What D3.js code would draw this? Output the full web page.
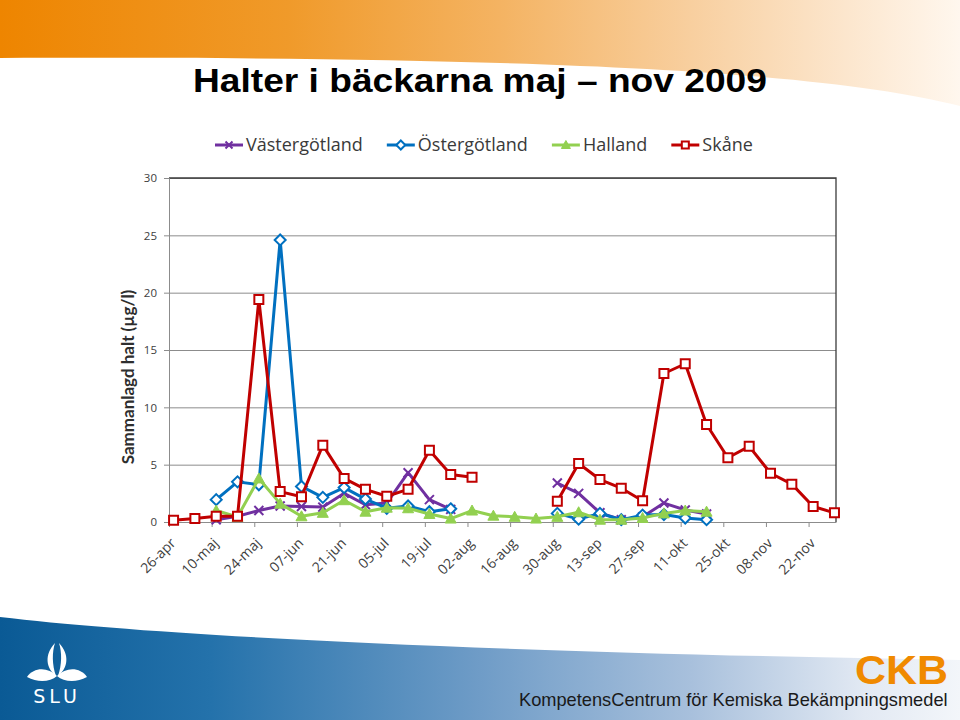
<!DOCTYPE html>
<html>
<head>
<meta charset="utf-8">
<script src="https://cdn.jsdelivr.net/npm/d3@7"></script>
<style>
    body { margin: 0; background: #fff; }
    svg { display: block; }
    .axis text { font-family: "Open Sans", "Liberation Sans", sans-serif; fill: #404040; }
    .legend text { font-family: "Open Sans", "Lato", sans-serif; font-size: 18px; fill: #3a3a3a; }
</style>
</head>
<body>
<script>
// weekly sampling dates (mondays)
const weeks = [
    "2009-04-27", "2009-05-04", "2009-05-11", "2009-05-18", "2009-05-25",
    "2009-06-01", "2009-06-08", "2009-06-15", "2009-06-22", "2009-06-29",
    "2009-07-06", "2009-07-13", "2009-07-20", "2009-07-27", "2009-08-03",
    "2009-08-10", "2009-08-17", "2009-08-24", "2009-08-31", "2009-09-07",
    "2009-09-14", "2009-09-21", "2009-09-28", "2009-10-05", "2009-10-12",
    "2009-10-19", "2009-10-26", "2009-11-02", "2009-11-09", "2009-11-16",
    "2009-11-23", "2009-11-30"
];
const tickDates = [
    "2009-04-26", "2009-05-10", "2009-05-24", "2009-06-07", "2009-06-21",
    "2009-07-05", "2009-07-19", "2009-08-02", "2009-08-16", "2009-08-30",
    "2009-09-13", "2009-09-27", "2009-10-11", "2009-10-25", "2009-11-08",
    "2009-11-22"
];
const tickLabels = ["26-apr", "10-maj", "24-maj", "07-jun", "21-jun", "05-jul", "19-jul", "02-aug",
    "16-aug", "30-aug", "13-sep", "27-sep", "11-okt", "25-okt", "08-nov", "22-nov"];
const yTicks = [0, 5, 10, 15, 20, 25, 30];
const seriesNames = ["Västergötland", "Östergötland", "Halland", "Skåne"];

const vastergotland = [null, null, 0.2, 0.5, 1.0, 1.4, 1.35, 1.3, 2.5, 1.5, 1.65, 4.3, 1.95, 1.1, null, null,
    null, null, 3.4, 2.5, 0.8, 0.2, 0.45, 1.65, 1.05, 0.7, null, null, null, null, null, null];
const ostergotland = [null, null, 1.95, 3.5, 3.25, 24.6, 3.1, 2.15, 3.0, 2.0, 1.2, 1.4, 0.9, 1.15, null, null,
    null, null, 0.75, 0.25, 0.75, 0.2, 0.6, 0.65, 0.35, 0.2, null, null, null, null, null, null];
const halland = [null, null, 1.0, 0.45, 3.8, 1.6, 0.5, 0.8, 1.9, 0.9, 1.25, 1.2, 0.7, 0.3, 1.0, 0.55,
    0.45, 0.3, 0.45, 0.85, 0.2, 0.2, 0.35, 0.75, 1.0, 0.9, null, null, null, null, null, null];
const skane = [0.15, 0.3, 0.5, 0.5, 19.4, 2.65, 2.2, 6.7, 3.8, 2.85, 2.25, 2.85, 6.25, 4.15, 3.9, null,
    null, null, 1.8, 5.1, 3.7, 2.95, 1.85, 12.95, 13.8, 8.5, 5.6, 6.6, 4.25, 3.3, 1.35, 0.8];

const seriesValues = [vastergotland, ostergotland, halland, skane];
const colors = ["#7030A0", "#0070C0", "#92D050", "#C00000"];
const markers = ["cross", "diamond", "triangle", "square"];

let width = 960,
    height = 720,
    margin = {left: 169, right: 124, top: 178, bottom: 198},
    plotW = width - margin.left - margin.right,
    plotH = height - margin.top - margin.bottom;

let parseDate = d3.timeParse("%Y-%m-%d"),
    halfDay = 12 * 3600 * 1000;

let svg = d3.select("body")
    .append("svg")
        .attr("width", width)
        .attr("height", height);

// squeeze a text horizontally so it fills the given width
const fitText = (sel, x, y, w) => {
    let natural = sel.node().getComputedTextLength();
    sel.attr("transform", "translate(" + x + "," + y + ") scale(" + (w / natural) + ",1)");
};

// ---- slide background ----
let defs = svg.append("defs");
let headGrad = defs.append("linearGradient").attr("id", "headGrad");
[["0%", "#ee8500"], ["30%", "#f09a2a"], ["52%", "#f4b362"], ["72%", "#f8cf9f"], ["88%", "#fce6cd"], ["100%", "#fff7ee"]]
    .forEach(s => headGrad.append("stop").attr("offset", s[0]).attr("stop-color", s[1]));
let footGrad = defs.append("linearGradient").attr("id", "footGrad");
[["0%", "#0a5a95"], ["22%", "#2472ab"], ["50%", "#6f9cc7"], ["72%", "#a8c0dc"], ["90%", "#e2e9f3"], ["100%", "#f3f6fa"]]
    .forEach(s => footGrad.append("stop").attr("offset", s[0]).attr("stop-color", s[1]));

svg.append("path")
    .attr("d", "M0,0 H960 V106 C820,70 520,56 0,58 Z")
    .attr("fill", "url(#headGrad)");
svg.append("path")
    .attr("d", "M0,617 C160,636 480,652 960,660 V720 H0 Z")
    .attr("fill", "url(#footGrad)");

let title = svg.append("text")
    .style("font-family", "'Liberation Sans Narrow', 'Liberation Sans', Arial, sans-serif")
    .style("font-weight", "bold")
    .style("font-size", "33px")
    .style("fill", "#000")
    .text("Halter i bäckarna maj – nov 2009");
fitText(title, 193, 92, 574);

// SLU logo
let slu = svg.append("g").attr("fill", "#fff");
["M55,643 C44,655 46,668 56,676 C52,665 52,652 55,643 Z",
 "M59,643 C70,655 68,668 58,676 C62,665 62,652 59,643 Z",
 "M57,676 C48,667 34,667 27,677 C38,683 50,682 57,676 Z",
 "M57,676 C66,667 80,667 87,677 C76,683 64,682 57,676 Z"]
    .forEach(p => slu.append("path").attr("d", p));
slu.append("text")
    .attr("x", 57)
    .attr("y", 703)
    .attr("text-anchor", "middle")
    .style("font-family", "'DejaVu Sans', sans-serif")
    .style("font-size", "19px")
    .style("letter-spacing", "4px")
    .text("SLU");

let ckb = svg.append("text")
    .style("font-family", "'Liberation Sans', Arial, sans-serif")
    .style("font-weight", "900")
    .style("font-size", "41px")
    .style("fill", "#f08a00")
    .text("CKB");
fitText(ckb, 855, 684, 93);
let ckbName = svg.append("text")
    .style("font-family", "'Liberation Sans Narrow', 'Liberation Sans', Arial, sans-serif")
    .style("font-size", "19px")
    .style("fill", "#1a1a1a")
    .text("KompetensCentrum för Kemiska Bekämpningsmedel");
fitText(ckbName, 519, 706, 429);

// ---- chart ----
let xScale = d3.scaleTime()
    .domain([parseDate("2009-04-26"), parseDate("2009-12-01")])
    .range([margin.left, margin.left + plotW]);
let yScale = d3.scaleLinear()
    .domain([0, 30])
    .range([margin.top + plotH, margin.top]);

// gridlines
svg.append("g")
    .attr("transform", "translate(" + margin.left + ",0)")
    .call(d3.axisLeft(yScale).tickValues(yTicks).tickSize(-plotW).tickFormat(""))
    .call(g => g.select(".domain").remove())
    .call(g => g.selectAll("line").attr("stroke", "#8c8c8c"));

// plot border top/right
svg.append("path")
    .attr("d", "M" + margin.left + "," + yScale(30) + " H" + (margin.left + plotW) + " V" + yScale(0))
    .attr("fill", "none")
    .attr("stroke", "#3c3c3c")
    .attr("stroke-width", 1.3);

let yAxis = svg.append("g")
    .classed("axis", true)
    .attr("transform", "translate(" + margin.left + ",0)")
    .call(d3.axisLeft(yScale).tickValues(yTicks).tickSize(5).tickPadding(7));
yAxis.selectAll("text").style("font-size", "11.5px");
yAxis.selectAll("line, path").attr("stroke", "#8c8c8c");

let xAxis = svg.append("g")
    .classed("axis", true)
    .attr("transform", "translate(0," + yScale(0) + ")")
    .call(d3.axisBottom(xScale)
        .tickValues(tickDates.map(parseDate))
        .tickSize(5)
        .tickSizeOuter(0)
        .tickFormat((d, i) => tickLabels[i]));
xAxis.selectAll("line, path").attr("stroke", "#8c8c8c");
xAxis.selectAll("text")
    .style("font-size", "14px")
    .attr("text-anchor", "end")
    .attr("dy", null)
    .attr("y", null)
    .attr("transform", "translate(7,22) rotate(-45)");

svg.append("text")
    .attr("transform", "translate(134," + (yScale(15) + 27) + ") rotate(-90)")
    .attr("text-anchor", "middle")
    .style("font-family", "'Lato', 'Open Sans', sans-serif")
    .style("font-weight", "bold")
    .style("font-size", "17px")
    .style("fill", "#2e2e2e")
    .text("Sammanlagd halt (µg/l)");

// marker shapes
const markerPath = (type, s) => {
    if (type === "square") return "M" + (-s) + "," + (-s) + "H" + s + "V" + s + "H" + (-s) + "Z";
    if (type === "diamond") return "M0," + (-s - 1) + "L" + (s + 1) + ",0L0," + (s + 1) + "L" + (-s - 1) + ",0Z";
    if (type === "triangle") return "M0," + (-s - 1) + "L" + (s + 1) + "," + s + "L" + (-s - 1) + "," + s + "Z";
    return "M" + (-s) + "," + (-s) + "L" + s + "," + s + "M" + s + "," + (-s) + "L" + (-s) + "," + s;
};
const markerFill = (type, color) => type === "triangle" ? color : (type === "cross" ? "none" : "#fff");

let line = d3.line()
    .defined(d => d.v != null)
    .x(d => xScale(new Date(d.date.getTime() + halfDay)))
    .y(d => yScale(d.v));

seriesValues.forEach((vals, si) => {
    let pts = vals.map((v, i) => ({date: parseDate(weeks[i]), v: v}));
    let g = svg.append("g").classed("series", true);
    g.append("path")
        .datum(pts)
        .attr("d", line)
        .attr("fill", "none")
        .attr("stroke", colors[si])
        .attr("stroke-width", 3)
        .attr("stroke-linejoin", "round");
    g.selectAll(".marker")
        .data(pts.filter(d => d.v != null))
        .enter()
        .append("path")
            .classed("marker", true)
            .attr("transform", d => "translate(" + xScale(new Date(d.date.getTime() + halfDay)) + "," + yScale(d.v) + ")")
            .attr("d", markerPath(markers[si], 4.5))
            .attr("fill", markerFill(markers[si], colors[si]))
            .attr("stroke", colors[si])
            .attr("stroke-width", markers[si] === "triangle" ? 1 : 2);
});

// legend
let legend = svg.append("g").classed("legend", true);
let lx = 215, ly = 145;
seriesNames.forEach((name, si) => {
    let item = legend.append("g").attr("transform", "translate(" + lx + "," + ly + ")");
    item.append("line")
        .attr("x1", 0).attr("x2", 28)
        .attr("stroke", colors[si])
        .attr("stroke-width", 3);
    item.append("path")
        .attr("transform", "translate(14,0)")
        .attr("d", markerPath(markers[si], 3.5))
        .attr("fill", markerFill(markers[si], colors[si]))
        .attr("stroke", colors[si])
        .attr("stroke-width", markers[si] === "triangle" ? 1 : 2);
    let t = item.append("text")
        .attr("x", 31)
        .attr("y", 6)
        .text(name);
    lx += 31 + t.node().getComputedTextLength() + 24;
});
</script>
</body>
</html>
